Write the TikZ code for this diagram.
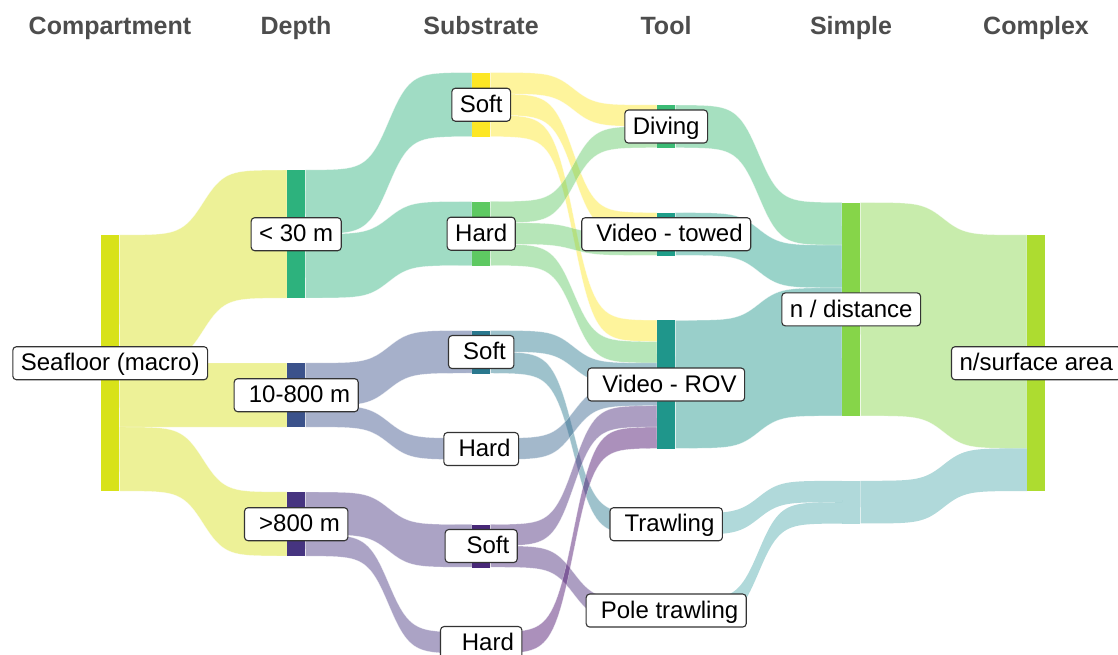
\documentclass[tikz,border=0pt]{standalone}
\usepackage{fontspec}
\setmainfont{Liberation Sans}

\definecolor{seaC}{HTML}{D8E219}
\definecolor{shallowC}{HTML}{2DB27D}
\definecolor{midC}{HTML}{3B528B}
\definecolor{deepC}{HTML}{463480}
\definecolor{softAC}{HTML}{FDE725}
\definecolor{hardAC}{HTML}{5EC962}
\definecolor{softBC}{HTML}{2A788E}
\definecolor{hardBC}{HTML}{33638D}
\definecolor{softCC}{HTML}{482878}
\definecolor{hardCC}{HTML}{460B6A}
\definecolor{divingC}{HTML}{3BBB75}
\definecolor{towedC}{HTML}{1F9E89}
\definecolor{rovC}{HTML}{1F968B}
\definecolor{trawlC}{HTML}{52ACAE}
\definecolor{ndistC}{HTML}{86D549}
\definecolor{nsurfC}{HTML}{ADDC30}
\definecolor{headgray}{HTML}{4D4D4D}
\definecolor{labelline}{HTML}{333333}

\newdimen\bandxa \newdimen\bandya \newdimen\bandxb \newdimen\bandyb

% a band from node #2 (offset #3 units) to node #4 (offset #5 units), #6 units thick, colour #7
\newcommand\flowband[7][]{%
  \pgfextractx{\bandxa}{\pgfpointanchor{#2}{north east}}%
  \pgfextracty{\bandya}{\pgfpointanchor{#2}{north east}}%
  \pgfextractx{\bandxb}{\pgfpointanchor{#4}{north west}}%
  \pgfextracty{\bandyb}{\pgfpointanchor{#4}{north west}}%
  \pgfmathsetmacro\bxa{\bandxa}%
  \pgfmathsetmacro\bxb{\bandxb}%
  \pgfmathsetmacro\bya{-\bandya+#3*21.3333}%
  \pgfmathsetmacro\byb{-\bandyb+#5*21.3333}%
  \pgfmathsetmacro\bth{#6*21.3333}%
  \path[flow, fill=#7, #1]
    plot[variable=\flowt, domain=0:1, samples=70]
      ({\bxa+(\bxb-\bxa)*\flowt}, {\bya+(\byb-\bya)*sg(\flowt)})
    -- plot[variable=\flowt, domain=1:0, samples=70]
      ({\bxa+(\bxb-\bxa)*\flowt}, {\bya+\bth+(\byb-\bya)*sg(\flowt)})
    -- cycle;}

% paint a node bar
\newcommand\paintbar[2]{\fill[#2] (#1.north west) rectangle (#1.south east);}

\begin{document}
\begin{tikzpicture}[x=1pt, y=-1pt,
  declare function={sg(\w)=1/(1+exp(8-16*\w));},
  bar/.style={rectangle, inner sep=0pt, minimum width=18pt, anchor=north west, draw=none},
  flow/.style={fill opacity=0.45, draw=white, draw opacity=0.5, line width=0.4pt},
  lab/.style={draw=labelline, fill=white, rounded corners=3.5pt, line width=1.1pt,
    inner xsep=8pt, inner ysep=4.75pt, text height=19.5pt, text depth=4pt,
    font=\fontsize{24}{28}\selectfont},
  head/.style={anchor=base, text=headgray, font=\bfseries\fontsize{25}{30}\selectfont}]

\path[use as bounding box, fill=white] (0,0) rectangle (1118,654);

% column headers
\node[head] (hcomp) at (110,34) {Compartment};
\node[head] (hdepth) at (296,34) {Depth};
\node[head] (hsub) at (481,34) {Substrate};
\node[head] (htool) at (666,34) {Tool};
\node[head] (hsimple) at (851,34) {Simple};
\node[head] (hcomplex) at (1036,34) {Complex};

% node positions
\node[bar, minimum height=256pt] (sea) at (101,235) {};
\node[bar, minimum height=128pt] (shallow) at (287,170) {};
\node[bar, minimum height=64pt] (mid) at (287,363) {};
\node[bar, minimum height=64pt] (deep) at (287,492) {};
\node[bar, minimum height=64pt] (softA) at (472,72.5) {};
\node[bar, minimum height=64pt] (hardA) at (472,201.5) {};
\node[bar, minimum height=42.667pt] (softB) at (472,330.5) {};
\node[bar, minimum height=21.333pt] (hardB) at (472,438.17) {};
\node[bar, minimum height=42.667pt] (softC) at (472,524.5) {};
\node[bar, minimum height=21.333pt] (hardC) at (472,632.17) {};
\node[bar, minimum height=42.667pt] (diving) at (657,105) {};
\node[bar, minimum height=42.667pt] (towed) at (657,212.67) {};
\node[bar, minimum height=128pt] (rov) at (657,320.33) {};
\node[bar, minimum height=21.333pt] (trawl) at (657,513.33) {};
\node[bar, minimum height=21.333pt] (pole) at (657,599.67) {};
\node[bar, minimum height=213.333pt] (ndist) at (842,202.5) {};
\node[bar, minimum height=42.667pt] (gap) at (842,480.83) {};
\node[bar, minimum height=256pt] (nsurf) at (1027,235) {};

% compartment -> depth
\flowband{sea}{0}{shallow}{0}{6}{seaC}
\flowband{sea}{6}{mid}{0}{3}{seaC}
\flowband{sea}{9}{deep}{0}{3}{seaC}
% depth -> substrate
\flowband{shallow}{0}{softA}{0}{3}{shallowC}
\flowband{shallow}{3}{hardA}{0}{3}{shallowC}
\flowband{mid}{0}{softB}{0}{2}{midC}
\flowband{mid}{2}{hardB}{0}{1}{midC}
\flowband{deep}{0}{softC}{0}{2}{deepC}
\flowband{deep}{2}{hardC}{0}{1}{deepC}
% substrate -> tool
\flowband{softA}{0}{diving}{0}{1}{softAC}
\flowband{softA}{1}{towed}{0}{1}{softAC}
\flowband{softA}{2}{rov}{0}{1}{softAC}
\flowband{hardA}{0}{diving}{1}{1}{hardAC}
\flowband{hardA}{1}{towed}{1}{1}{hardAC}
\flowband{hardA}{2}{rov}{1}{1}{hardAC}
\flowband{softB}{0}{rov}{2}{1}{softBC}
\flowband{softB}{1}{trawl}{0}{1}{softBC}
\flowband{hardB}{0}{rov}{3}{1}{hardBC}
\flowband{softC}{0}{rov}{4}{1}{softCC}
\flowband{softC}{1}{pole}{0}{1}{softCC}
\flowband{hardC}{0}{rov}{5}{1}{hardCC}
% tool -> simple
\flowband{diving}{0}{ndist}{0}{2}{divingC}
\flowband{towed}{0}{ndist}{2}{2}{towedC}
\flowband{rov}{0}{ndist}{4}{6}{rovC}
\flowband[draw=none]{trawl}{0}{gap}{0}{1}{trawlC}
\flowband[draw=none]{pole}{0}{gap}{1}{1}{trawlC}
% simple -> complex
\flowband{ndist}{0}{nsurf}{0}{10}{ndistC}
\flowband[draw=none]{gap}{0}{nsurf}{10}{2}{trawlC}

% bars over the bands
\paintbar{sea}{seaC}
\paintbar{shallow}{shallowC}
\paintbar{mid}{midC}
\paintbar{deep}{deepC}
\paintbar{softA}{softAC}
\paintbar{hardA}{hardAC}
\paintbar{softB}{softBC}
\paintbar{hardB}{hardBC}
\paintbar{softC}{softCC}
\paintbar{hardC}{hardCC}
\paintbar{diving}{divingC}
\paintbar{towed}{towedC}
\paintbar{rov}{rovC}
\paintbar{trawl}{trawlC}
\paintbar{pole}{trawlC}
\paintbar{ndist}{ndistC}
\fill[trawlC, fill opacity=0.45] (gap.north west) rectangle (gap.south east);
\paintbar{nsurf}{nsurfC}

% labels
\node[lab] (lsea) at (sea.center) {Seafloor (macro)};
\node[lab] (lshallow) at (shallow.center) {< 30 m};
\node[lab] (lmid) at (mid.center) {\ 10-800 m};
\node[lab] (ldeep) at (deep.center) {\ >800 m};
\node[lab] (lsoftA) at (softA.center) {Soft\ };
\node[lab] (lhardA) at (hardA.center) {Hard\ };
\node[lab] (lsoftB) at (softB.center) {\ Soft};
\node[lab] (lhardB) at (hardB.center) {\ Hard};
\node[lab] (lsoftC) at (softC.center) {\ \ Soft};
\node[lab] (lhardC) at (hardC.center) {\ \ Hard};
\node[lab] (ldiving) at (diving.center) {Diving};
\node[lab] (ltowed) at (towed.center) {\ Video - towed};
\node[lab] (lrov) at (rov.center) {\ Video - ROV};
\node[lab] (ltrawl) at (trawl.center) {\ Trawling};
\node[lab] (lpole) at (pole.center) {\ Pole trawling};
\node[lab] (lndist) at (ndist.center) {n / distance};
\node[lab] (lnsurf) at (nsurf.center) {n/surface area};
\end{tikzpicture}
\end{document}
